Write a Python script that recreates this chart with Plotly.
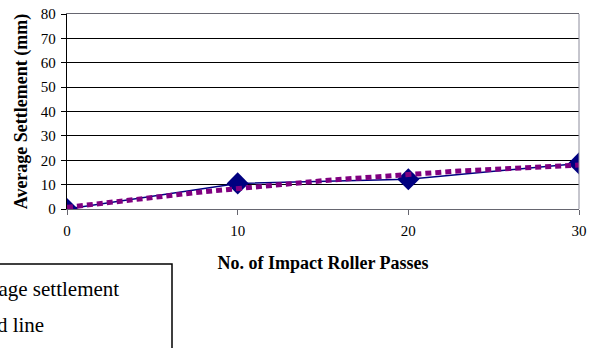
import numpy as np
import plotly.graph_objects as go

# Measured average settlement after each set of impact roller passes
passes = [0, 10, 20, 30]
settlement = [0.0, 10.5, 12.2, 18.7]
series_names = ["Average settlement", "Trend line"]
x_ticks = [0, 10, 20, 30]
y_ticks = [0, 10, 20, 30, 40, 50, 60, 70, 80]

# Second-order polynomial trend through the measurements
coef = np.polyfit(passes, settlement, 2)
trend_x = np.linspace(min(passes), max(passes), 61)
trend_y = np.polyval(coef, trend_x)

SERIF = "Liberation Serif, Times New Roman, serif"
W, H = 594, 348
ML, MR, MT, MB = 67, 15, 14, 139
PW, PH = W - ML - MR, H - MT - MB


def px_x(px):
    return (px - ML) / PW


def px_y(py):
    return (H - MB - py) / PH


fig = go.Figure()
fig.add_trace(go.Scatter(
    x=passes, y=settlement, name=series_names[0], legendgroup="a",
    mode="lines+markers",
    line=dict(color="#000080", width=1.5),
    marker=dict(symbol="diamond", size=17, color="#000080"),
))
fig.add_trace(go.Scatter(
    x=trend_x, y=trend_y, name=series_names[1], legendgroup="b",
    mode="lines",
    line=dict(color="#800080", width=5, dash="6px,4px"),
))

# Legend frame and right-hand plot border
fig.add_shape(type="rect", xref="paper", yref="paper",
              x0=px_x(-60), x1=px_x(172), y0=px_y(264), y1=px_y(420),
              line=dict(color="black", width=1.5), fillcolor="rgba(0,0,0,0)")
fig.add_shape(type="line", xref="paper", yref="paper",
              x0=1, x1=1, y0=0, y1=1, line=dict(color="#8c8c9c", width=1))

fig.update_layout(
    width=W, height=H,
    margin=dict(l=ML, r=MR, t=MT, b=MB, autoexpand=False),
    paper_bgcolor="white", plot_bgcolor="white",
    font=dict(family=SERIF, color="black", size=15),
    showlegend=True,
    legend=dict(
        x=px_x(-82), y=px_y(268), xanchor="left", yanchor="top",
        font=dict(family=SERIF, size=21, color="black"),
        bgcolor="rgba(0,0,0,0)", borderwidth=0,
        traceorder="grouped", tracegroupgap=5,
    ),
    xaxis=dict(
        range=[0, 30], tickvals=x_ticks, showgrid=False, zeroline=False,
        showline=True, linecolor="#666670", linewidth=1.3, mirror=True,
        ticks="outside", ticklen=5, tickcolor="#666670",
        ticklabelstandoff=3,
        tickfont=dict(family=SERIF, size=15),
        title=dict(text="<b>No. of Impact Roller Passes</b>",
                   font=dict(family=SERIF, size=18), standoff=18),
    ),
    yaxis=dict(
        range=[0, 80], tickvals=y_ticks, showgrid=True, gridcolor="black",
        gridwidth=1, zeroline=False,
        showline=True, linecolor="black", linewidth=1.3,
        ticks="outside", ticklen=5, tickcolor="black",
        ticklabelstandoff=2,
        tickfont=dict(family=SERIF, size=15),
        title=dict(text="<b>Average Settlement (mm)</b>",
                   font=dict(family=SERIF, size=18), standoff=8),
    ),
)

fig.write_html("out.html")
